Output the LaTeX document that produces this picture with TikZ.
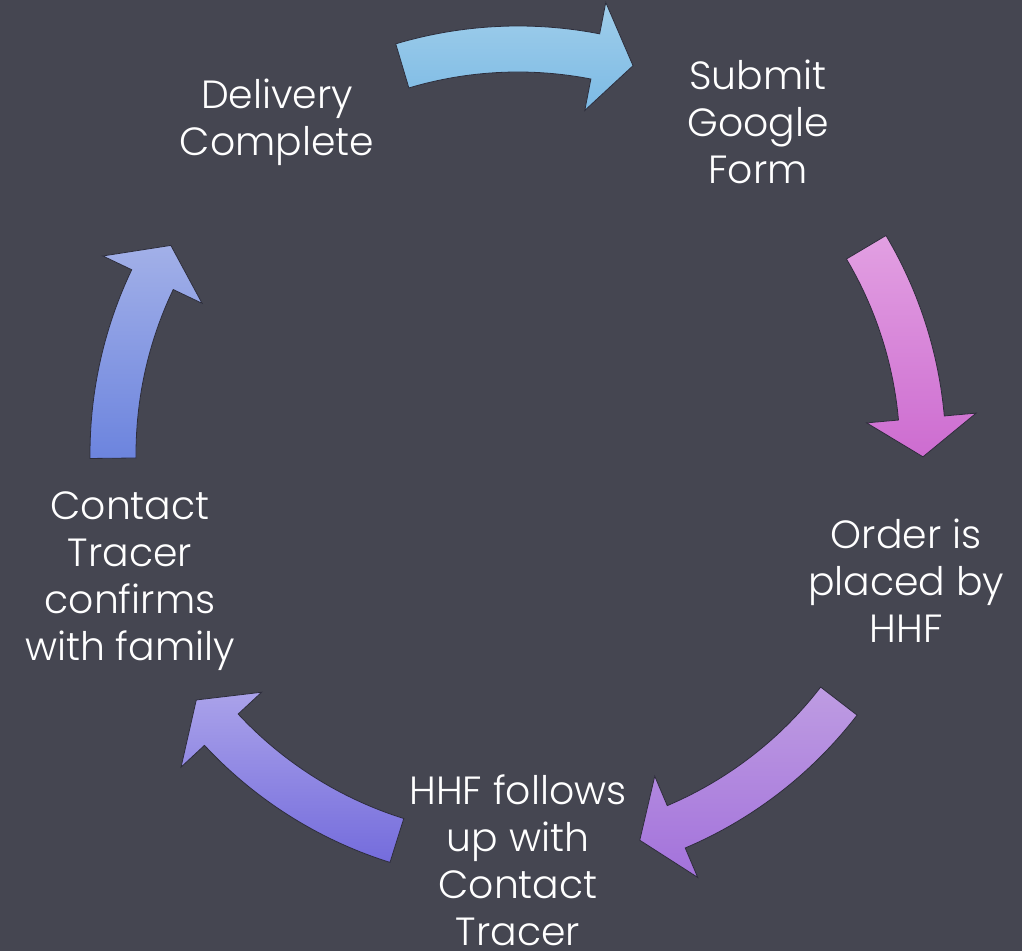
\documentclass[tikz,border=0pt]{standalone}
\usepackage{fontspec}
\setmainfont{Poppins Light}
\usepackage{tikz}
\usetikzlibrary{calc}
\definecolor{slate}{RGB}{69,70,81}
\definecolor{rimcol}{RGB}{45,45,58}
\definecolor{skytop}{RGB}{160,206,234}
\definecolor{skybot}{RGB}{124,186,229}
\definecolor{pinktop}{RGB}{226,160,226}
\definecolor{pinkbot}{RGB}{205,108,208}
\definecolor{lilactop}{RGB}{190,156,226}
\definecolor{lilacbot}{RGB}{163,114,219}
\definecolor{violettop}{RGB}{170,162,234}
\definecolor{violetbot}{RGB}{116,108,220}
\definecolor{periwtop}{RGB}{162,176,232}
\definecolor{periwbot}{RGB}{108,132,222}
\newcommand*\cyclearrow[4]{%
  \pgfmathsetmacro\headbase{#2+5.5}
  \draw[arrowbody,top color=#3,bottom color=#4]
    (#1:428) arc[start angle=#1,end angle=\headbase,radius=428]
    -- (\headbase:460) -- (#2:405) -- (\headbase:350) -- (\headbase:382)
    arc[start angle=\headbase,end angle=#1,radius=382] -- cycle;}

\begin{document}
\begin{tikzpicture}[x=0.75pt,y=0.75pt,
    step label/.style={text=white,align=center,font=\fontsize{29.5}{35.3}\selectfont},
    arrowbody/.style={draw=rimcol,line width=0.6pt}]
			\fill[slate](0,0)rectangle(1022,951);
			\coordinate(hub)at(518,497);
			\node[step label](submit)at(758,829){Submit\\Google\\Form};
			\node[step label](order)at(906,370){Order is\\placed by\\HHF};
			\node[step label](follow)at(518,91){HHF follows\\up with\\Contact\\Tracer};
			\node[step label](confirm)at(130,370){Contact\\Tracer\\confirms\\with family};
			\node[step label](delivery)at(277,829){Delivery\\Complete};
			\begin{scope}[shift={(hub)}]
				\cyclearrow{106.6}{73.5}{skytop}{skybot}
				\cyclearrow{30.7}{-0.4}{pinktop}{pinkbot}
				\cyclearrow{-37.6}{-72.5}{lilactop}{lilacbot}
				\cyclearrow{-107.4}{-142.6}{violettop}{violetbot}
				\cyclearrow{180.6}{149}{periwtop}{periwbot}
			\end{scope}
		\end{tikzpicture}
\end{document}
